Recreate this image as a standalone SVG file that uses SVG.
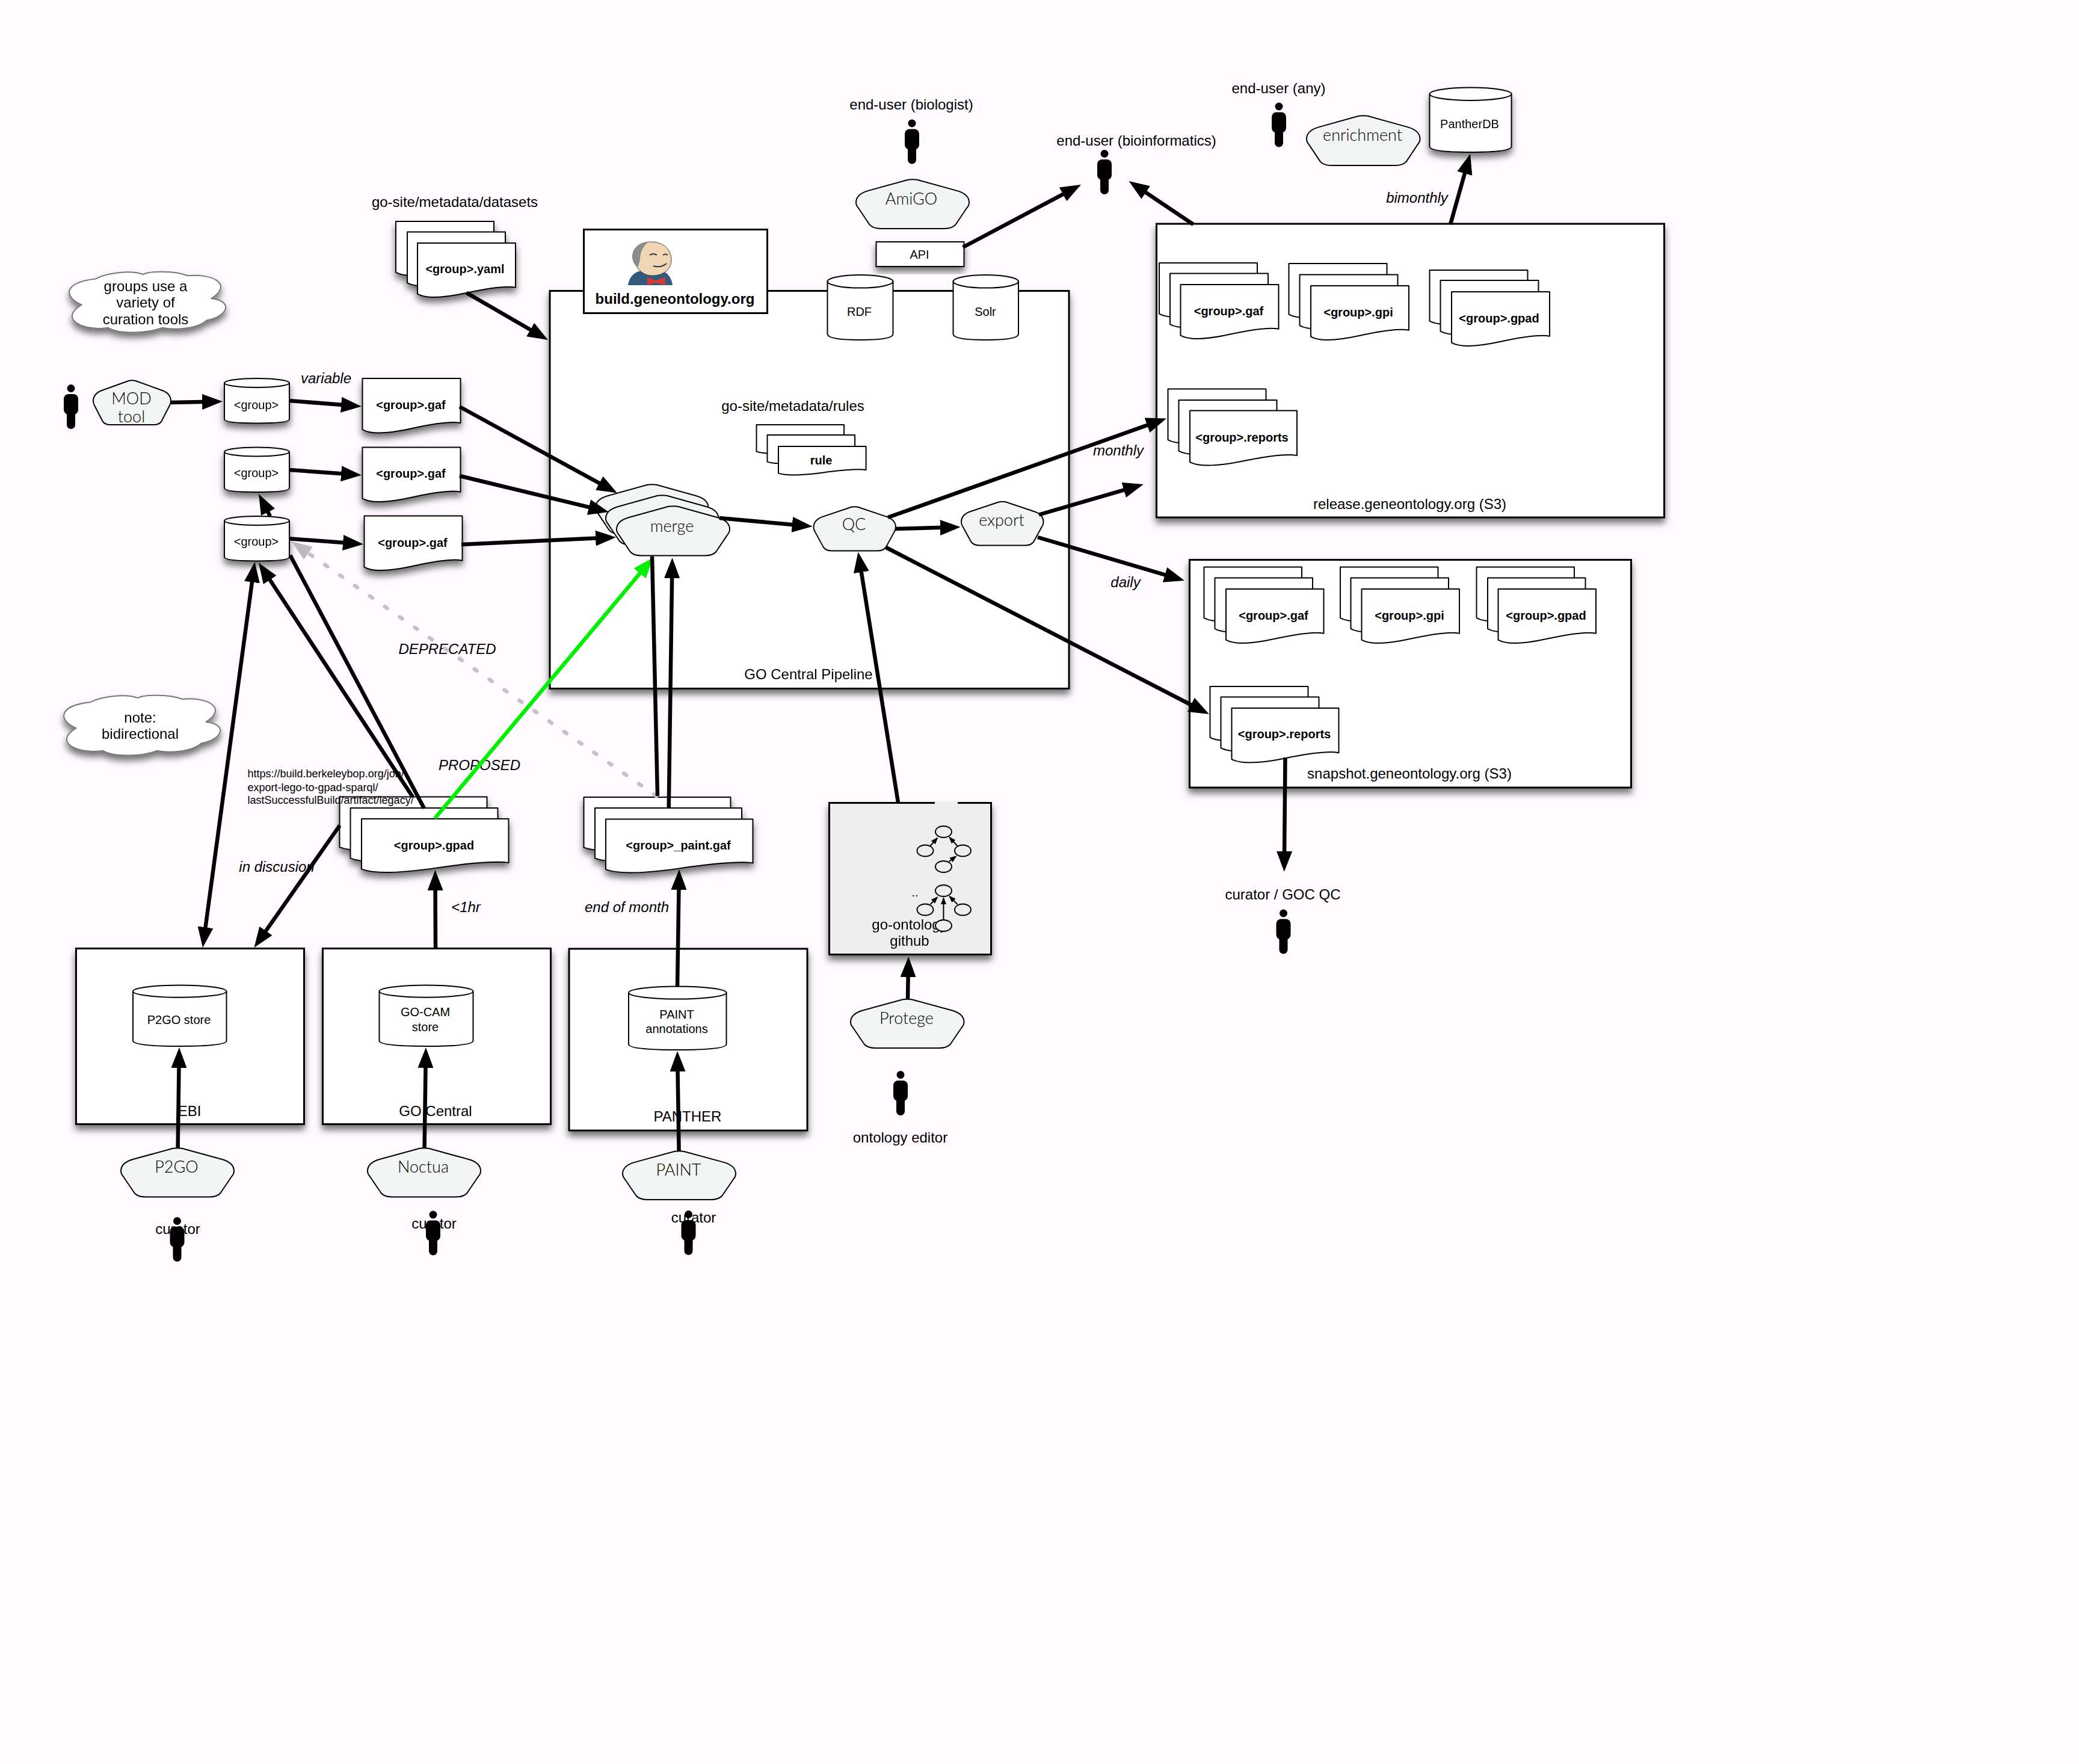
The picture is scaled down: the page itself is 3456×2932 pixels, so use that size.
<svg xmlns="http://www.w3.org/2000/svg" width="3456" height="2932" viewBox="0 0 3456 2932">
<style>
text{font-family:"Liberation Sans",Arial,sans-serif;fill:#000;text-anchor:middle;dominant-baseline:central;font-size:24px}
.b{font-weight:bold;font-size:20px}
.s{font-size:20px}
.i{font-style:italic}
.p{font-family:Lato,"Liberation Sans",sans-serif;font-size:27px;font-weight:300;fill:#000;transform:translateY(-2px)}
.u{font-size:18px;text-anchor:start}
.box{fill:#fff;stroke:#000;stroke-width:3}
.shape{fill:#fff;stroke:#000;stroke-width:2;vector-effect:non-scaling-stroke;stroke-linejoin:round}
.pent{fill:#f2f5f3}
.rim{fill:none}
.cl{stroke:#777}
.sh{filter:url(#shadow)}
.c{fill:none;stroke:#000;stroke-width:6.5;marker-end:url(#arr)}
.n{marker-end:none}
.bi{marker-start:url(#arr)}
.g{stroke:#00f000;marker-end:url(#arrg)}
.d{stroke:#c6c2c8;stroke-dasharray:5 25.3;stroke-linecap:round;marker-end:url(#arrd)}
.m{fill:none;stroke:#000;stroke-width:2;marker-end:url(#arrm)}
.e{fill:#eee;stroke:#000;stroke-width:2}
</style>
<defs>
<filter id="shadow" x="-20%" y="-20%" width="140%" height="150%"><feDropShadow dx="0" dy="8" stdDeviation="6" flood-color="#000" flood-opacity=".55"/></filter>
<marker id="arr" markerUnits="userSpaceOnUse" viewBox="0 0 34 26" markerWidth="34" markerHeight="26" refX="22" refY="13" orient="auto-start-reverse"><path d="M0,0L34,13L0,26Z" fill="#000"/></marker>
<marker id="arrg" markerUnits="userSpaceOnUse" viewBox="0 0 34 26" markerWidth="34" markerHeight="26" refX="22" refY="13" orient="auto"><path d="M0,0L34,13L0,26Z" fill="#00f000"/></marker>
<marker id="arrd" markerUnits="userSpaceOnUse" viewBox="0 0 34 26" markerWidth="34" markerHeight="26" refX="22" refY="13" orient="auto"><path d="M0,0L34,13L0,26Z" fill="#bdbabd"/></marker>
<marker id="arrm" markerUnits="userSpaceOnUse" viewBox="0 0 12 9" markerWidth="12" markerHeight="9" refX="10" refY="4.5" orient="auto"><path d="M0,0L12,4.5L0,9Z" fill="#000"/></marker>
<path id="doc" class="shape" d="M0,0H100V82C90,78 70,84 50,92C30,100 10,104 0,94Z"/>
<path id="pent" class="shape pent" d="M46,1Q50,-.5 54,1L89,23Q100,30 100,47Q100,53 98,58L88,92Q85,100 78,100H22Q15,100 12,92L2,58Q0,53 0,47Q0,30 11,23Z"/>
<g id="cyl"><path class="shape" d="M0,10A50,10 0 0 1 100,10V91Q100,100 50,100Q0,100 0,91Z"/><path class="shape rim" d="M0,10A50,10 0 0 0 100,10"/></g>
<path id="cloud" class="shape cl" d="M9,55C-3,42 -2,18 18,13C24,4 40,-2 48,6C52,0 68,0 76,8C92,4 105,22 91,45C104,48 103,72 88,80C82,94 68,96 60,92C50,102 32,102 26,92C10,98 -6,78 9,55Z"/>
<g id="person" fill="#000"><circle cx="0" cy="6.5" r="6.5"/><rect x="-12" y="16" width="24" height="34" rx="8"/><rect x="-7" y="40" width="14" height="34" rx="7"/></g>
</defs>
<rect id="background" width="3456" height="2932" fill="#fefaff"/>

<g id="pipeline" class="sh"><rect class="box" x="914" y="483.5" width="863" height="661"/><text x="1344" y="1120.5">GO Central Pipeline</text></g>
<g id="release" class="sh"><rect class="box" x="1922.5" y="372" width="844" height="488"/></g>
<text x="2343.5" y="837">release.geneontology.org (S3)</text>
<g id="snapshot" class="sh"><rect class="box" x="1977.5" y="930.5" width="734" height="378.5"/></g>
<text x="2343" y="1285.5">snapshot.geneontology.org (S3)</text>
<g id="ebi" class="sh"><rect class="box" x="126.5" y="1576.5" width="379" height="292"/></g>
<text x="315" y="1846">EBI</text>
<g id="gocentral" class="sh"><rect class="box" x="536.5" y="1576.5" width="379" height="292"/></g>
<text x="724" y="1846">GO Central</text>
<g id="panther" class="sh"><rect class="box" x="946" y="1577" width="396" height="302"/></g>
<text x="1143" y="1855.5">PANTHER</text>

<g id="build"><rect class="box" x="970.5" y="381.5" width="305" height="139"/><text x="1122" y="496.5" style="font-weight:bold">build.geneontology.org</text>
<g id="jenkins-logo"><path d="M1044,474C1046,458 1058,450 1068,450H1096C1108,450 1116,460 1118,474Z" fill="#335a7d"/><path d="M1052,430C1050,412 1064,402 1082,402C1102,402 1116,414 1116,432C1116,448 1102,458 1084,458C1068,458 1058,446 1052,430Z" fill="#f0d6b5" stroke="#444" stroke-width="1"/><path d="M1054,438C1046,420 1056,404 1078,402C1068,410 1064,420 1064,432L1060,446Z" fill="#8c8c8c"/><path d="M1076,461L1090,466L1106,461L1106,474L1090,470L1076,474Z" fill="#d33833"/><path d="M1080,424Q1086,420 1092,424M1102,424Q1106,421 1110,424M1086,442Q1098,446 1108,438" fill="none" stroke="#333" stroke-width="2"/></g></g>
<g id="rdf"><use href="#cyl" transform="translate(1375.5,457) scale(1.09,1.08)"/><text class="s" x="1428.5" y="517.5">RDF</text></g>
<g id="solr"><use href="#cyl" transform="translate(1584.5,457) scale(1.085,1.08)"/><text class="s" x="1638" y="517.5">Solr</text></g>
<g id="amigo"><use href="#pent" transform="translate(1423,298) scale(1.88,.82)"/><text class="p" x="1515" y="331">AmiGO</text></g>
<g id="api" class="sh"><rect class="box" x="1456.5" y="402" width="146" height="41" style="stroke-width:2"/><text class="s" x="1528.5" y="423">API</text></g>
<text x="1515" y="173.5">end-user (biologist)</text>
<use id="person-biologist" href="#person" x="1516" y="198.5"/>
<text x="1889" y="233.5">end-user (bioinformatics)</text>
<use id="person-bioinformatics" href="#person" x="1836" y="249"/>
<text x="2125.5" y="146">end-user (any)</text>
<use id="person-any" href="#person" x="2126" y="170.5"/>
<g id="enrichment"><use href="#pent" transform="translate(2172,192) scale(1.885,.83)"/><text class="p" x="2265" y="225">enrichment</text></g>
<g id="pantherdb" class="sh"><use href="#cyl" transform="translate(2376.5,145.5) scale(1.36,1.075)"/><text class="s" x="2443" y="206">PantherDB</text></g>
<text class="i" x="2355.5" y="328">bimonthly</text>

<text x="756" y="335.5">go-site/metadata/datasets</text>
<g id="yaml" class="sh"><use href="#doc" transform="translate(658,368) scale(1.63,.9)"/><use href="#doc" transform="translate(677,385.5) scale(1.63,.9)"/><use href="#doc" transform="translate(694,404) scale(1.63,.9)"/><text class="b" x="773" y="447">&lt;group&gt;.yaml</text></g>

<g id="note-tools" class="sh"><use href="#cloud" transform="translate(112,450) scale(2.63,1.03)"/><text x="242" y="475">groups use a</text><text x="242" y="502.5">variety of</text><text x="242" y="530">curation tools</text></g>
<use id="person-mod" href="#person" x="118" y="639"/>
<g id="mod-tool"><use href="#pent" transform="translate(155,632) scale(1.29,.74)"/><text class="p" x="218.5" y="663">MOD</text><text class="p" x="218.5" y="693">tool</text></g>
<g id="group1" class="sh"><use href="#cyl" transform="translate(373,629) scale(1.08,.745)"/><text class="s" x="426" y="672.5">&lt;group&gt;</text></g>
<g id="group2" class="sh"><use href="#cyl" transform="translate(373,743.5) scale(1.08,.745)"/><text class="s" x="426" y="786">&lt;group&gt;</text></g>
<g id="group3" class="sh"><use href="#cyl" transform="translate(373,858) scale(1.08,.745)"/><text class="s" x="426" y="900">&lt;group&gt;</text></g>
<text class="i" x="542" y="628">variable</text>
<g id="gaf1" class="sh"><use href="#doc" transform="translate(602.5,629) scale(1.63,.905)"/><text class="b" x="683" y="673">&lt;group&gt;.gaf</text></g>
<g id="gaf2" class="sh"><use href="#doc" transform="translate(602.5,743.5) scale(1.63,.905)"/><text class="b" x="683" y="787">&lt;group&gt;.gaf</text></g>
<g id="gaf3" class="sh"><use href="#doc" transform="translate(605.5,857.5) scale(1.63,.905)"/><text class="b" x="686" y="901.5">&lt;group&gt;.gaf</text></g>

<text x="1318" y="674.5">go-site/metadata/rules</text>
<g id="rules"><use href="#doc" transform="translate(1257.5,706) scale(1.456,.475)"/><use href="#doc" transform="translate(1275.5,723) scale(1.456,.475)"/><use href="#doc" transform="translate(1294,742) scale(1.456,.475)"/><text class="b" x="1365" y="764.5">rule</text></g>
<g id="merge"><use href="#pent" transform="translate(990,805) scale(1.875,.826)"/><use href="#pent" transform="translate(1007,823) scale(1.875,.826)"/><use href="#pent" transform="translate(1025,841) scale(1.88,.826)"/><text class="p" x="1117" y="875.5">merge</text></g>
<g id="qc"><use href="#pent" transform="translate(1352.5,842) scale(1.365,.735)"/><text class="p" x="1419.5" y="872.5">QC</text></g>
<g id="export"><use href="#pent" transform="translate(1598,833.5) scale(1.365,.73)"/><text class="p" x="1665" y="865">export</text></g>
<text class="i" x="1859" y="748">monthly</text>
<text class="i" x="1871" y="967">daily</text>

<g id="release-gaf"><use href="#doc" transform="translate(1927,437) scale(1.63,.9)"/><use href="#doc" transform="translate(1945,454.5) scale(1.63,.9)"/><use href="#doc" transform="translate(1962.5,473) scale(1.63,.9)"/><text class="b" x="2042.5" y="516.5">&lt;group&gt;.gaf</text></g>
<g id="release-gpi"><use href="#doc" transform="translate(2142.5,438) scale(1.63,.9)"/><use href="#doc" transform="translate(2160.5,456.5) scale(1.63,.9)"/><use href="#doc" transform="translate(2179,475) scale(1.63,.9)"/><text class="b" x="2258" y="518.5">&lt;group&gt;.gpi</text></g>
<g id="release-gpad"><use href="#doc" transform="translate(2376.5,449) scale(1.63,.9)"/><use href="#doc" transform="translate(2394.5,466) scale(1.63,.9)"/><use href="#doc" transform="translate(2413,485) scale(1.63,.9)"/><text class="b" x="2492" y="528.5">&lt;group&gt;.gpad</text></g>
<g id="release-reports"><use href="#doc" transform="translate(1941.5,646.5) scale(1.63,.9)"/><use href="#doc" transform="translate(1959.5,665) scale(1.63,.9)"/><use href="#doc" transform="translate(1978,682.5) scale(1.78,.91)"/><text class="b" x="2064.5" y="726.5">&lt;group&gt;.reports</text></g>

<g id="snapshot-gaf"><use href="#doc" transform="translate(2001.5,942.5) scale(1.625,.9)"/><use href="#doc" transform="translate(2019.5,960.5) scale(1.625,.9)"/><use href="#doc" transform="translate(2038,979) scale(1.625,.9)"/><text class="b" x="2117" y="1022.5">&lt;group&gt;.gaf</text></g>
<g id="snapshot-gpi"><use href="#doc" transform="translate(2228,942.5) scale(1.625,.9)"/><use href="#doc" transform="translate(2245.5,960.5) scale(1.625,.9)"/><use href="#doc" transform="translate(2263.5,979) scale(1.625,.9)"/><text class="b" x="2343" y="1022.5">&lt;group&gt;.gpi</text></g>
<g id="snapshot-gpad"><use href="#doc" transform="translate(2454.5,942.5) scale(1.625,.9)"/><use href="#doc" transform="translate(2473,960.5) scale(1.625,.9)"/><use href="#doc" transform="translate(2490.5,979) scale(1.625,.9)"/><text class="b" x="2570" y="1022.5">&lt;group&gt;.gpad</text></g>
<g id="snapshot-reports"><use href="#doc" transform="translate(2011.5,1141) scale(1.63,.9)"/><use href="#doc" transform="translate(2029.5,1158.5) scale(1.63,.9)"/><use href="#doc" transform="translate(2047.5,1177) scale(1.78,.905)"/><text class="b" x="2135" y="1220">&lt;group&gt;.reports</text></g>
<text x="2132.5" y="1486.5">curator / GOC QC</text>
<use id="person-qc" href="#person" x="2133.5" y="1511.5"/>

<g id="note-bidirectional" class="sh"><use href="#cloud" transform="translate(103,1154) scale(2.63,1.02)"/><text x="233" y="1192">note:</text><text x="233" y="1219.5">bidirectional</text></g>
<text class="i" x="460" y="1440.5">in discusion</text>
<text class="i" x="797" y="1271">PROPOSED</text>
<text class="i" x="743.5" y="1078">DEPRECATED</text>
<text class="i" x="774.5" y="1507.5">&lt;1hr</text>
<text class="i" x="1042" y="1507.5">end of month</text>
<g id="gpad" class="sh"><use href="#doc" transform="translate(564.5,1324.5) scale(2.45,.89)"/><use href="#doc" transform="translate(582.5,1343) scale(2.45,.89)"/><use href="#doc" transform="translate(601,1361) scale(2.445,.89)"/><text class="b" x="721.5" y="1405">&lt;group&gt;.gpad</text></g>
<text class="u" x="411.5" y="1286">https://build.berkeleybop.org/job/</text>
<text class="u" x="411.5" y="1308.5">export-lego-to-gpad-sparql/</text>
<text class="u" x="411.5" y="1330">lastSuccessfulBuild/artifact/legacy/</text>
<g id="paint-gaf" class="sh"><use href="#doc" transform="translate(970.5,1325) scale(2.44,.89)"/><use href="#doc" transform="translate(989,1343) scale(2.44,.89)"/><use href="#doc" transform="translate(1007,1361.5) scale(2.445,.89)"/><text class="b" x="1127.5" y="1404.5">&lt;group&gt;_paint.gaf</text></g>

<g id="p2go-store"><use href="#cyl" transform="translate(221,1637.5) scale(1.555,1.015)"/><text class="s" x="297.5" y="1694.5">P2GO store</text></g>
<g id="gocam-store"><use href="#cyl" transform="translate(630.5,1637.5) scale(1.56,1.015)"/><text class="s" x="707" y="1682">GO-CAM</text><text class="s" x="707" y="1706.5">store</text></g>
<g id="paint-annotations"><use href="#cyl" transform="translate(1045,1639.5) scale(1.625,1.055)"/><text class="s" x="1125" y="1686">PAINT</text><text class="s" x="1125" y="1710">annotations</text></g>
<g id="p2go"><use href="#pent" transform="translate(201,1908) scale(1.88,.815)"/><text class="p" x="293.5" y="1940.5">P2GO</text></g>
<g id="noctua"><use href="#pent" transform="translate(611,1908) scale(1.88,.815)"/><text class="p" x="703.5" y="1940.5">Noctua</text></g>
<g id="paint"><use href="#pent" transform="translate(1035,1913) scale(1.88,.81)"/><text class="p" x="1128" y="1945.5">PAINT</text></g>
<g id="protege"><use href="#pent" transform="translate(1414,1660.5) scale(1.885,.815)"/><text class="p" x="1507" y="1693.5">Protege</text></g>
<text x="295.5" y="2042">curator</text>
<use id="person-p2go" href="#person" x="294.5" y="2023"/>
<text x="721.5" y="2033.5">curator</text>
<use id="person-noctua" href="#person" x="720" y="2012.5"/>
<text x="1153" y="2023">curator</text>
<use id="person-paint" href="#person" x="1144.5" y="2012"/>
<use id="person-ontology" href="#person" x="1497" y="1780"/>
<text x="1496.5" y="1890">ontology editor</text>

<g id="github" class="sh"><rect class="box" x="1378.5" y="1334.5" width="269" height="252" style="fill:#eee"/>
<path d="M1554,1334.5H1592" stroke="#eee" stroke-width="4"/>
<text x="1512" y="1536">go-ontology</text><text x="1512" y="1563.5">github</text>
<text x="1521" y="1483" class="s">..</text>
<ellipse class="e" cx="1568.5" cy="1382.5" rx="13.5" ry="9.5"/><ellipse class="e" cx="1538" cy="1414" rx="13.5" ry="9.5"/><ellipse class="e" cx="1600.5" cy="1414" rx="13.5" ry="9.5"/><ellipse class="e" cx="1568.5" cy="1440.5" rx="13.5" ry="9.5"/>
<ellipse class="e" cx="1568.5" cy="1480.5" rx="13.5" ry="9.5"/><ellipse class="e" cx="1538" cy="1512" rx="13.5" ry="9.5"/><ellipse class="e" cx="1600.5" cy="1512" rx="13.5" ry="9.5"/><ellipse class="e" cx="1568.5" cy="1538.5" rx="13.5" ry="9.5"/>
<path class="m" d="M1546.5,1406L1558,1393"/><path class="m" d="M1591.5,1406L1578.5,1392"/><path class="m" d="M1577.5,1432L1589,1423.5"/><path class="m" d="M1546.5,1503L1558,1491.5"/><path class="m" d="M1591.5,1503L1578.5,1490"/><path class="m" d="M1568.5,1528L1568.5,1493"/>
</g>

<g id="connectors">
<path class="c" d="M284,669L358,667.6"/>
<path class="c" d="M481,666L589,674.5"/>
<path class="c" d="M481,781L589,788.8"/>
<path class="c" d="M481,895.3L592,903.6"/>
<path class="c" d="M449,858L435.5,831.7"/>
<path class="c" d="M764,676L1015.5,813.7"/>
<path class="c" d="M764,791L1000.3,848.2"/>
<path class="c" d="M767,905L1012,893.6"/>
<path class="c" d="M775.5,486.6L900.6,559"/>
<path class="c bi" d="M421.9,945.9L338.6,1563.1"/>
<path class="c" d="M686,1324.5L436.6,945.5"/>
<path class="c n" d="M705,1343.6L482.4,923"/>
<path class="c" d="M564.7,1372L429.4,1565.2"/>
<path class="c d" d="M1091,1323L494.5,906.9"/>
<path class="c g" d="M723,1360L1077.8,936.2"/>
<path class="c n" d="M1084,924.6L1093,1323"/>
<path class="c" d="M1111.7,1344L1117.4,939"/>
<path class="c" d="M1195.7,861L1338.7,873.9"/>
<path class="c" d="M1487.8,879L1584.8,876.3"/>
<path class="c" d="M1476,860L1927.7,699.4"/>
<path class="c" d="M1473,910L1999.3,1181.5"/>
<path class="c" d="M1727,855.5L1889.3,808.3"/>
<path class="c" d="M1725,893L1957.5,961.6"/>
<path class="c" d="M1493,1334L1428.4,929.3"/>
<path class="c" d="M1600.7,411L1786.4,312.6"/>
<path class="c" d="M1983.7,373L1886.5,307.7"/>
<path class="c" d="M2411,373L2440.8,267.2"/>
<path class="c" d="M2136.5,1259L2134.9,1437"/>
<path class="c" d="M724,1577L723.5,1458"/>
<path class="c" d="M295.6,1908.7L297.8,1753"/>
<path class="c" d="M705.6,1908.7L707.8,1753"/>
<path class="c" d="M1126,1640.4L1128.8,1457"/>
<path class="c" d="M1128.6,1913L1126.2,1759"/>
<path class="c" d="M1509,1660.5L1510,1602"/>
</g>
</svg>
